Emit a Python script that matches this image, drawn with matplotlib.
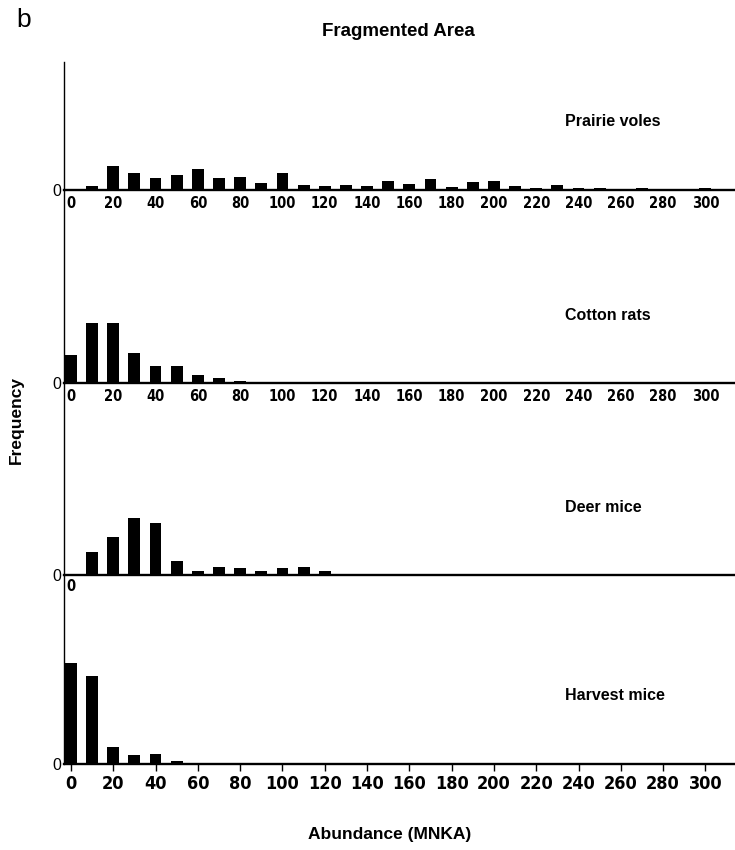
import matplotlib
matplotlib.use("Agg")
import matplotlib.pyplot as plt
import numpy as np

# ---------------- data ----------------
bins = list(range(0, 310, 10))  # abundance classes (MNKA)

prairie_voles = [0, 0.90, 4.80, 3.50, 2.44, 2.96, 4.14, 2.34, 2.56, 1.44, 3.36,
                 1.06, 0.74, 0.96, 0.76, 1.74, 1.24, 2.14, 0.70, 1.60, 1.76,
                 0.80, 0.44, 0.94, 0.32, 0.50, 0.26, 0.50, 0.0, 0.26, 0.40]
cotton_rats = [5.54, 12.0, 12.0, 6.08, 3.34, 3.40, 1.66, 1.06, 0.40]
deer_mice = [0, 4.60, 7.66, 11.37, 10.34, 2.90, 0.90, 1.60, 1.40, 0.84, 1.43, 1.63, 0.74]
harvest_mice = [20.2, 17.66, 3.34, 1.86, 2.06, 0.60]

species = ["Prairie voles", "Cotton rats", "Deer mice", "Harvest mice"]
tick_values = list(range(0, 320, 20))
tick_labels = [str(v) for v in tick_values]

title = "Fragmented Area"
panel_letter = "b"
xlabel = "Abundance (MNKA)"
ylabel = "Frequency"

# ---------------- layout ----------------
W, H = 735, 850
PX_PER_UNIT = 5.0          # vertical pixels per frequency unit
BAR_W = 5.6
XMIN, XMAX = -3.3, 314

plt.rcParams['font.family'] = ['Liberation Sans', 'DejaVu Sans']
tick_font = dict(family=['DejaVu Sans'], fontstretch='condensed', fontweight='bold')

fig = plt.figure(figsize=(W / 100, H / 100), dpi=100)

# (top_px, baseline_px) for each panel
panels = [(62, 190), (190, 383), (383, 575), (575, 764)]
series = [prairie_voles, cotton_rats, deer_mice, harvest_mice]

for i, ((top, base), vals, name) in enumerate(zip(panels, series, species)):
    ax = fig.add_axes([64 / W, 1 - base / H, (W - 64) / W, (base - top) / H])
    ax.patch.set_alpha(0)
    x = bins[:len(vals)]
    ax.bar(x, vals, width=BAR_W, color='black', align='center')
    ax.set_xlim(XMIN, XMAX)
    ax.set_ylim(0, (base - top) / PX_PER_UNIT)
    for s in ['top', 'right']:
        ax.spines[s].set_visible(False)
    ax.spines['left'].set_linewidth(1.0)
    ax.spines['bottom'].set_linewidth(1.7)
    ax.set_yticks([0])
    ax.set_yticklabels(['0'], fontsize=11.5)
    ax.tick_params(axis='y', length=0, pad=2)
    if i in (0, 1):
        ax.set_xticks(tick_values)
        ax.set_xticklabels(tick_labels, fontsize=10.5, **tick_font)
        ax.tick_params(axis='x', length=0, pad=4)
    elif i == 2:
        ax.set_xticks([0])
        ax.set_xticklabels(['0'], fontsize=10.5, **tick_font)
        ax.tick_params(axis='x', length=0, pad=3)
    else:
        ax.set_xticks(tick_values)
        ax.set_xticklabels(tick_labels, fontsize=13, **tick_font)
        ax.tick_params(axis='x', length=5, width=1, pad=3, direction='out')
    fig.text(565 / W, 1 - (base - 68) / H, name, fontsize=11.5, fontweight='bold',
             ha='left', va='center')

fig.text(398 / W, 1 - 32 / H, title, fontsize=13.5, fontweight='bold', ha='center', va='center')
fig.text(24 / W, 1 - 20 / H, panel_letter, fontsize=19, ha='center', va='center')
fig.text(390 / W, 1 - 834 / H, xlabel, fontsize=12.5, fontweight='bold', ha='center', va='center')
fig.text(16 / W, 1 - 420 / H, ylabel, fontsize=12.5, fontweight='bold', ha='center', va='center',
         rotation=90)

fig.savefig("out.png", dpi=100)
